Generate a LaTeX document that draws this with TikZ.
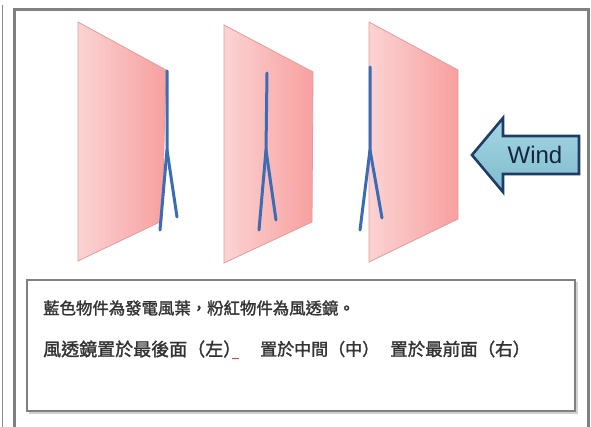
\documentclass[tikz,border=0pt]{standalone}
\usepackage{fontspec}
\setmainfont{Liberation Sans}
\newfontfamily\cjk[AutoFakeBold=1.6]{Noto Sans CJK TC}
\begin{document}
\begin{tikzpicture}[x=1pt,y=-1pt,
  frameline/.style={draw=black!50,line width=3pt},
  lens/.style={left color=lensL,right color=lensR,draw=lensE,line width=0.8pt},
  blade/.style={draw=bladeblue,line width=3pt,line cap=round,line join=round},
  windarrow/.style={top color=arrowT,bottom color=arrowB,draw=arrowE,line width=2.6pt,line join=miter},
  caption/.style={inner sep=0pt,anchor=west,text=capgray}]
\definecolor{lensL}{HTML}{FBD3D3}
\definecolor{lensR}{HTML}{F7A09F}
\definecolor{lensE}{HTML}{E29C9C}
\definecolor{bladeblue}{HTML}{3C6CB4}
\definecolor{arrowT}{HTML}{A6D6E3}
\definecolor{arrowB}{HTML}{7EBCCD}
\definecolor{arrowE}{HTML}{1F3C66}
\definecolor{capgray}{HTML}{333333}
\definecolor{windtext}{HTML}{14253F}

% canvas
\fill[white] (0,0) rectangle (591,427);
\useasboundingbox (0,0) rectangle (591,427);

% outer frame (open at the bottom) and thin rule at the far left
\draw[black!45,line width=0.8pt] (2,5) -- (2,427);
\draw[frameline] (14,427) -- (14,10) -- (588,10) -- (588,427);

% wind lenses
\path[lens] (78,22) -- (166,70) -- (162,221) -- (78,261) -- cycle;
\path[lens] (224,25) -- (313,72) -- (312,222) -- (224,263) -- cycle;
\path[lens] (369,22) -- (458,70) -- (458,219) -- (369,262) -- cycle;

% turbine blades
\draw[blade] (167,71) -- (167,150) -- (160,230);
\draw[blade] (167,150) -- (177,217);
\draw[blade] (267,73) -- (266,150) -- (259,230);
\draw[blade] (266,150) -- (276,220);
\draw[blade] (370,67) -- (370,150) -- (360,230);
\draw[blade] (370,150) -- (382,218);

% wind arrow
\path[windarrow] (472,155) -- (503,118) -- (503,136) -- (579,136)
  -- (579,174) -- (503,174) -- (503,192) -- cycle;
\node[inner sep=0pt,text=windtext,font=\fontsize{24}{24}\selectfont] (wind) at (535,155) {Wind};

% caption box
\draw[black!18,line width=1.5pt] (29,413) -- (577,413) -- (577,282);
\draw[black!50,line width=1.6pt] (27,280) rectangle (575,411);

\node[caption,font=\cjk\bfseries\fontsize{16.4}{16.4}\selectfont] (cap1) at (43,308)
  {藍色物件為發電風葉，粉紅物件為風透鏡。};
\node[caption,font=\cjk\bfseries\fontsize{18}{18}\selectfont] (capL) at (43,349)
  {風透鏡置於最後面（左）};
\node[caption,font=\cjk\bfseries\fontsize{17}{17}\selectfont] (capM) at (260,349)
  {置於中間（中）};
\node[caption,font=\cjk\bfseries\fontsize{17.5}{17.5}\selectfont] (capR) at (390,349)
  {置於最前面（右）};
\draw[red!80,line width=0.8pt] ([xshift=-9pt,yshift=-1pt]capL.south east) -- ([xshift=-2pt,yshift=-1pt]capL.south east);
\end{tikzpicture}
\end{document}
